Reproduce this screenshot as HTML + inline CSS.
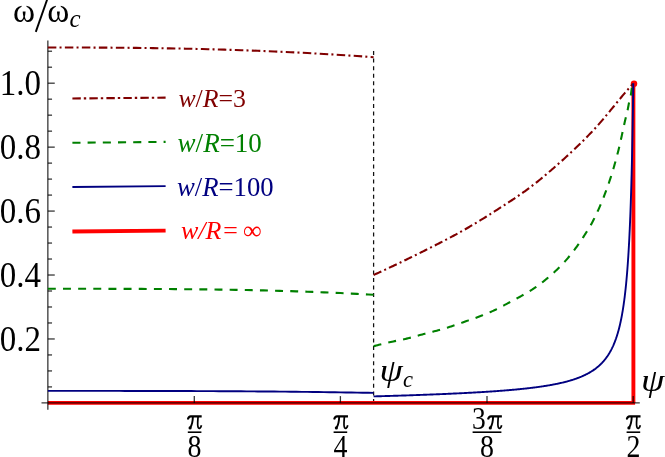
<!DOCTYPE html>
<html><head><meta charset="utf-8"><title>plot</title>
<style>
html,body{margin:0;padding:0;background:#fff;}
svg{display:block;font-family:"Liberation Serif",serif;will-change:transform;}
</style></head><body>
<svg width="665" height="457" viewBox="0 0 665 457">
<rect width="665" height="457" fill="#fff"/>
<!-- red infinite curve -->
<g fill="none" stroke="#ff0000" stroke-width="3.9">
<path d="M47.85,402.9 L635.0999999999999,402.9"/>
<path d="M633.4,402.9 L633.4,83.7"/>
</g>
<circle cx="634.0" cy="83.7" r="3.25" fill="#ff0000"/>
<!-- axes -->
<g stroke="#000" stroke-opacity="0.78" stroke-width="1.3" fill="none">
<line x1="41.5" y1="402.9" x2="639.8" y2="402.9"/>
<line x1="47.85" y1="40.6" x2="47.85" y2="409.8"/>
<line x1="47.85" y1="386.91" x2="52.05" y2="386.91"/>
<line x1="47.85" y1="370.93" x2="52.05" y2="370.93"/>
<line x1="47.85" y1="354.94" x2="52.05" y2="354.94"/>
<line x1="47.85" y1="338.96" x2="54.75" y2="338.96"/>
<line x1="47.85" y1="322.97" x2="52.05" y2="322.97"/>
<line x1="47.85" y1="306.99" x2="52.05" y2="306.99"/>
<line x1="47.85" y1="291.00" x2="52.05" y2="291.00"/>
<line x1="47.85" y1="275.02" x2="54.75" y2="275.02"/>
<line x1="47.85" y1="259.03" x2="52.05" y2="259.03"/>
<line x1="47.85" y1="243.05" x2="52.05" y2="243.05"/>
<line x1="47.85" y1="227.06" x2="52.05" y2="227.06"/>
<line x1="47.85" y1="211.08" x2="54.75" y2="211.08"/>
<line x1="47.85" y1="195.09" x2="52.05" y2="195.09"/>
<line x1="47.85" y1="179.11" x2="52.05" y2="179.11"/>
<line x1="47.85" y1="163.12" x2="52.05" y2="163.12"/>
<line x1="47.85" y1="147.14" x2="54.75" y2="147.14"/>
<line x1="47.85" y1="131.15" x2="52.05" y2="131.15"/>
<line x1="47.85" y1="115.17" x2="52.05" y2="115.17"/>
<line x1="47.85" y1="99.18" x2="52.05" y2="99.18"/>
<line x1="47.85" y1="83.20" x2="54.75" y2="83.20"/>
<line x1="47.85" y1="67.21" x2="52.05" y2="67.21"/>
<line x1="47.85" y1="51.23" x2="52.05" y2="51.23"/>
<line x1="194.3" y1="402.9" x2="194.3" y2="396.09999999999997"/>
<line x1="340.4" y1="402.9" x2="340.4" y2="396.09999999999997"/>
<line x1="487.0" y1="402.9" x2="487.0" y2="396.09999999999997"/>
<line x1="633.2" y1="402.9" x2="633.2" y2="396.09999999999997"/>
</g>
<!-- vertical dashed -->
<line x1="373.6" y1="51" x2="373.6" y2="401" stroke="#111" stroke-width="1.25" stroke-dasharray="4.0 3.565"/>
<!-- curves -->
<g fill="none" stroke-width="2.1">
<g stroke="#800000" stroke-dasharray="8.5 3.2 2 3.3">
<path d="M47.85,47.50 L53.37,47.50 L58.89,47.50 L64.41,47.51 L69.93,47.51 L75.46,47.52 L80.98,47.54 L86.50,47.55 L92.02,47.57 L97.54,47.60 L103.06,47.63 L108.58,47.66 L114.10,47.70 L119.63,47.74 L125.15,47.79 L130.67,47.84 L136.19,47.90 L141.71,47.96 L147.23,48.03 L152.75,48.10 L158.27,48.19 L163.79,48.27 L169.32,48.37 L174.84,48.46 L180.36,48.57 L185.88,48.68 L191.40,48.80 L196.92,48.93 L202.44,49.06 L207.96,49.20 L213.49,49.35 L219.01,49.50 L224.53,49.67 L230.05,49.84 L235.57,50.01 L241.09,50.20 L246.61,50.39 L252.13,50.59 L257.66,50.80 L263.18,51.02 L268.70,51.24 L274.22,51.48 L279.74,51.72 L285.26,51.97 L290.78,52.23 L296.30,52.50 L301.82,52.77 L307.35,53.06 L312.87,53.35 L318.39,53.65 L323.91,53.97 L329.43,54.29 L334.95,54.62 L340.47,54.96 L345.99,55.31 L351.52,55.67 L357.04,56.04 L362.56,56.41 L368.08,56.80 L373.60,57.20"/>
<path d="M373.60,275.00 L374.90,274.41 L376.21,273.82 L377.51,273.22 L378.81,272.62 L380.12,272.02 L381.42,271.42 L382.72,270.82 L384.03,270.22 L385.33,269.61 L386.64,269.00 L387.94,268.39 L389.24,267.78 L390.55,267.17 L391.85,266.55 L393.15,265.94 L394.46,265.32 L395.76,264.70 L397.06,264.08 L398.37,263.45 L399.67,262.83 L400.97,262.20 L402.28,261.57 L403.58,260.95 L404.88,260.31 L406.19,259.68 L407.49,259.05 L408.79,258.41 L410.10,257.78 L411.40,257.14 L412.71,256.50 L414.01,255.86 L415.31,255.22 L416.62,254.57 L417.92,253.93 L419.22,253.28 L420.53,252.64 L421.83,251.99 L423.13,251.34 L424.44,250.69 L425.74,250.04 L427.04,249.38 L428.35,248.73 L429.65,248.08 L430.95,247.42 L432.26,246.76 L433.56,246.11 L434.87,245.45 L436.17,244.78 L437.47,244.12 L438.78,243.46 L440.08,242.79 L441.38,242.12 L442.69,241.45 L443.99,240.78 L445.29,240.10 L446.60,239.42 L447.90,238.74 L449.20,238.05 L450.51,237.36 L451.81,236.67 L453.11,235.97 L454.42,235.27 L455.72,234.57 L457.03,233.86 L458.33,233.14 L459.63,232.43 L460.94,231.70 L462.24,230.97 L463.54,230.23 L464.85,229.49 L466.15,228.74 L467.45,227.98 L468.76,227.22 L470.06,226.46 L471.36,225.69 L472.67,224.91 L473.97,224.14 L475.27,223.35 L476.58,222.57 L477.88,221.78 L479.18,220.99 L480.49,220.20 L481.79,219.41 L483.10,218.61 L484.40,217.80 L485.70,216.99 L487.01,216.18 L488.31,215.36 L489.61,214.54 L490.92,213.72 L492.22,212.88 L493.52,212.05 L494.83,211.21 L496.13,210.37 L497.43,209.53 L498.74,208.69 L500.04,207.86 L501.34,207.02 L502.65,206.18 L503.95,205.34 L505.26,204.50 L506.56,203.66 L507.86,202.81 L509.17,201.96 L510.47,201.11 L511.77,200.25 L513.08,199.39 L514.38,198.52 L515.68,197.64 L516.99,196.76 L518.29,195.87 L519.59,194.97 L520.90,194.06 L522.20,193.15 L523.50,192.22 L524.81,191.29 L526.11,190.34 L527.42,189.38 L528.72,188.42 L530.02,187.44 L531.33,186.44 L532.63,185.44 L533.93,184.43 L535.24,183.41 L536.54,182.37 L537.84,181.33 L539.15,180.28 L540.45,179.22 L541.75,178.15 L543.06,177.07 L544.36,175.98 L545.66,174.89 L546.97,173.79 L548.27,172.68 L549.57,171.57 L550.88,170.44 L552.18,169.32 L553.49,168.18 L554.79,167.04 L556.09,165.90 L557.40,164.75 L558.70,163.59 L560.00,162.43 L561.31,161.27 L562.61,160.10 L563.91,158.92 L565.22,157.74 L566.52,156.56 L567.82,155.36 L569.13,154.16 L570.43,152.96 L571.73,151.74 L573.04,150.52 L574.34,149.29 L575.65,148.05 L576.95,146.80 L578.25,145.55 L579.56,144.28 L580.86,143.01 L582.16,141.72 L583.47,140.43 L584.77,139.12 L586.07,137.81 L587.38,136.48 L588.68,135.14 L589.98,133.80 L591.29,132.44 L592.59,131.06 L593.89,129.68 L595.20,128.27 L596.50,126.84 L597.81,125.38 L599.11,123.91 L600.41,122.41 L601.72,120.90 L603.02,119.37 L604.32,117.83 L605.63,116.27 L606.93,114.70 L608.23,113.13 L609.54,111.55 L610.84,109.96 L612.14,108.36 L613.45,106.77 L614.75,105.17 L616.05,103.58 L617.36,101.99 L618.66,100.41 L619.96,98.83 L621.27,97.25 L622.57,95.69 L623.88,94.14 L625.18,92.61 L626.48,91.09 L627.79,89.58 L629.09,88.08 L630.39,86.58 L631.70,85.09 L633.00,83.60"/>
</g>
<g stroke="#008000">
<path d="M47.85,288.80 L53.37,288.80 L58.89,288.80 L64.41,288.80 L69.93,288.80 L75.46,288.80 L80.98,288.80 L86.50,288.81 L92.02,288.81 L97.54,288.82 L103.06,288.82 L108.58,288.83 L114.10,288.84 L119.63,288.85 L125.15,288.86 L130.67,288.88 L136.19,288.90 L141.71,288.92 L147.23,288.94 L152.75,288.97 L158.27,288.99 L163.79,289.03 L169.32,289.06 L174.84,289.10 L180.36,289.15 L185.88,289.19 L191.40,289.25 L196.92,289.30 L202.44,289.36 L207.96,289.43 L213.49,289.50 L219.01,289.58 L224.53,289.66 L230.05,289.75 L235.57,289.85 L241.09,289.95 L246.61,290.05 L252.13,290.17 L257.66,290.29 L263.18,290.42 L268.70,290.55 L274.22,290.69 L279.74,290.84 L285.26,291.00 L290.78,291.17 L296.30,291.34 L301.82,291.53 L307.35,291.72 L312.87,291.92 L318.39,292.13 L323.91,292.35 L329.43,292.58 L334.95,292.82 L340.47,293.07 L345.99,293.33 L351.52,293.60 L357.04,293.89 L362.56,294.18 L368.08,294.48 L373.60,294.80" stroke-dasharray="7.95 7.2"/>
<path d="M373.60,346.20 L374.91,345.86 L376.23,345.52 L377.54,345.18 L378.86,344.85 L380.18,344.52 L381.49,344.20 L382.81,343.88 L384.13,343.56 L385.45,343.24 L386.77,342.93 L388.09,342.62 L389.41,342.31 L390.73,342.01 L392.06,341.71 L393.38,341.42 L394.71,341.13 L396.04,340.86 L397.37,340.59 L398.70,340.32 L400.03,340.05 L401.36,339.79 L402.69,339.51 L404.02,339.23 L405.34,338.94 L406.66,338.63 L407.98,338.31 L409.29,337.98 L410.60,337.64 L411.91,337.28 L413.22,336.92 L414.53,336.56 L415.84,336.19 L417.14,335.82 L418.45,335.46 L419.76,335.10 L421.07,334.74 L422.38,334.40 L423.69,334.05 L425.01,333.72 L426.32,333.38 L427.64,333.05 L428.95,332.72 L430.27,332.39 L431.58,332.05 L432.90,331.71 L434.21,331.36 L435.52,331.01 L436.83,330.65 L438.13,330.29 L439.44,329.93 L440.75,329.56 L442.05,329.18 L443.36,328.80 L444.66,328.42 L445.96,328.03 L447.26,327.64 L448.55,327.24 L449.85,326.84 L451.14,326.43 L452.43,326.01 L453.71,325.57 L455.00,325.13 L456.28,324.69 L457.56,324.24 L458.84,323.78 L460.12,323.33 L461.39,322.87 L462.67,322.41 L463.95,321.96 L465.23,321.51 L466.52,321.07 L467.80,320.63 L469.08,320.19 L470.37,319.75 L471.65,319.31 L472.94,318.87 L474.22,318.42 L475.50,317.97 L476.77,317.51 L478.05,317.05 L479.32,316.57 L480.58,316.09 L481.85,315.59 L483.11,315.10 L484.37,314.59 L485.63,314.08 L486.88,313.56 L488.14,313.03 L489.38,312.50 L490.63,311.96 L491.87,311.41 L493.10,310.85 L494.33,310.27 L495.55,309.69 L496.76,309.09 L497.97,308.48 L499.18,307.86 L500.39,307.23 L501.59,306.60 L502.79,305.96 L503.99,305.33 L505.19,304.69 L506.39,304.06 L507.59,303.43 L508.79,302.79 L509.99,302.15 L511.18,301.52 L512.38,300.87 L513.57,300.23 L514.77,299.58 L515.96,298.93 L517.15,298.28 L518.33,297.62 L519.52,296.96 L520.70,296.30 L521.89,295.64 L523.08,294.98 L524.26,294.31 L525.45,293.65 L526.63,292.98 L527.81,292.30 L528.98,291.61 L530.14,290.91 L531.29,290.20 L532.43,289.48 L533.56,288.73 L534.68,287.97 L535.79,287.20 L536.90,286.41 L538.00,285.61 L539.09,284.80 L540.18,283.98 L541.26,283.16 L542.33,282.32 L543.40,281.48 L544.46,280.64 L545.51,279.79 L546.56,278.93 L547.60,278.06 L548.64,277.19 L549.68,276.31 L550.70,275.41 L551.72,274.52 L552.73,273.61 L553.74,272.69 L554.73,271.77 L555.72,270.85 L556.70,269.91 L557.67,268.97 L558.64,268.02 L559.60,267.06 L560.55,266.09 L561.50,265.11 L562.44,264.13 L563.37,263.13 L564.29,262.14 L565.20,261.13 L566.10,260.12 L566.99,259.10 L567.87,258.07 L568.74,257.03 L569.60,255.98 L570.46,254.93 L571.30,253.87 L572.14,252.79 L572.97,251.72 L573.79,250.64 L574.61,249.55 L575.42,248.46 L576.22,247.37 L577.02,246.27 L577.81,245.17 L578.59,244.07 L579.37,242.95 L580.14,241.83 L580.90,240.71 L581.66,239.58 L582.41,238.45 L583.16,237.32 L583.89,236.18 L584.62,235.04 L585.35,233.89 L586.07,232.74 L586.80,231.59 L587.52,230.44 L588.24,229.28 L588.95,228.12 L589.65,226.95 L590.34,225.78 L591.02,224.61 L591.68,223.43 L592.33,222.24 L592.97,221.04 L593.58,219.84 L594.18,218.64 L594.78,217.42 L595.37,216.21 L595.95,214.99 L596.53,213.76 L597.10,212.53 L597.67,211.30 L598.23,210.06 L598.78,208.82 L599.33,207.58 L599.88,206.33 L600.41,205.08 L600.95,203.83 L601.47,202.57 L601.99,201.31 L602.51,200.05 L603.01,198.79 L603.52,197.52 L604.02,196.25 L604.51,194.98 L604.99,193.71 L605.47,192.44 L605.95,191.17 L606.42,189.90 L606.88,188.62 L607.34,187.35 L607.79,186.07 L608.24,184.79 L608.68,183.52 L609.11,182.24 L609.55,180.95 L609.97,179.67 L610.39,178.38 L610.81,177.09 L611.22,175.80 L611.63,174.50 L612.03,173.21 L612.43,171.91 L612.83,170.61 L613.22,169.30 L613.60,168.00 L613.99,166.70 L614.36,165.39 L614.74,164.08 L615.11,162.77 L615.47,161.47 L615.83,160.16 L616.19,158.85 L616.55,157.53 L616.90,156.22 L617.24,154.91 L617.59,153.60 L617.93,152.29 L618.26,150.98 L618.59,149.66 L618.91,148.34 L619.23,147.03 L619.54,145.71 L619.84,144.39 L620.15,143.06 L620.44,141.74 L620.74,140.42 L621.03,139.09 L621.32,137.76 L621.60,136.44 L621.89,135.11 L622.18,133.78 L622.46,132.46 L622.75,131.13 L623.03,129.80 L623.32,128.47 L623.61,127.15 L623.90,125.82 L624.19,124.50 L624.49,123.17 L624.79,121.85 L625.09,120.53 L625.40,119.20 L625.72,117.89 L626.05,116.57 L626.39,115.25 L626.73,113.94 L627.05,112.62 L627.36,111.30 L627.64,109.97 L627.90,108.64 L628.15,107.31 L628.40,105.97 L628.65,104.64 L628.91,103.31 L629.20,101.99 L629.52,100.67 L629.86,99.35 L630.19,98.03 L630.49,96.71 L630.77,95.38 L630.99,94.05 L631.18,92.70 L631.35,91.35 L631.52,90.00 L631.71,88.66 L631.94,87.33 L632.23,86.01 L632.59,84.70 L633.00,83.40" stroke-dasharray="7.95 7.18"/>
</g>
<g stroke="#000080" stroke-width="1.9">
<path d="M47.85,390.90 L53.37,390.90 L58.89,390.90 L64.41,390.90 L69.93,390.90 L75.46,390.90 L80.98,390.90 L86.50,390.90 L92.02,390.90 L97.54,390.91 L103.06,390.91 L108.58,390.91 L114.10,390.92 L119.63,390.92 L125.15,390.93 L130.67,390.93 L136.19,390.94 L141.71,390.95 L147.23,390.96 L152.75,390.97 L158.27,390.98 L163.79,390.99 L169.32,391.00 L174.84,391.02 L180.36,391.03 L185.88,391.05 L191.40,391.07 L196.92,391.09 L202.44,391.11 L207.96,391.14 L213.49,391.16 L219.01,391.19 L224.53,391.22 L230.05,391.25 L235.57,391.28 L241.09,391.32 L246.61,391.35 L252.13,391.39 L257.66,391.43 L263.18,391.48 L268.70,391.52 L274.22,391.57 L279.74,391.62 L285.26,391.67 L290.78,391.73 L296.30,391.79 L301.82,391.85 L307.35,391.91 L312.87,391.98 L318.39,392.05 L323.91,392.12 L329.43,392.19 L334.95,392.27 L340.47,392.35 L345.99,392.43 L351.52,392.52 L357.04,392.61 L362.56,392.70 L368.08,392.80 L373.60,392.90"/>
<path d="M373.60,396.41 L374.68,396.38 L375.76,396.35 L376.84,396.32 L377.91,396.29 L378.99,396.26 L380.05,396.23 L381.12,396.20 L382.18,396.17 L383.25,396.14 L384.30,396.10 L385.36,396.07 L386.41,396.04 L387.46,396.01 L388.51,395.98 L389.55,395.95 L390.60,395.92 L391.64,395.88 L392.67,395.85 L393.71,395.82 L394.74,395.79 L395.77,395.76 L396.79,395.72 L397.82,395.69 L398.84,395.66 L399.85,395.63 L400.87,395.59 L401.88,395.56 L402.89,395.53 L403.90,395.49 L404.91,395.46 L405.91,395.43 L406.91,395.40 L407.90,395.36 L408.90,395.33 L409.89,395.29 L410.88,395.26 L411.87,395.23 L412.85,395.19 L413.83,395.16 L414.81,395.13 L415.78,395.09 L416.76,395.06 L417.73,395.02 L418.70,394.99 L419.66,394.95 L420.62,394.92 L421.58,394.88 L422.54,394.85 L423.50,394.81 L424.45,394.78 L425.40,394.74 L426.35,394.71 L427.29,394.67 L428.23,394.63 L429.17,394.60 L430.11,394.56 L431.04,394.53 L431.97,394.49 L432.90,394.45 L433.83,394.42 L434.75,394.38 L435.68,394.34 L436.59,394.31 L437.51,394.27 L438.42,394.23 L439.34,394.19 L440.24,394.16 L441.15,394.12 L442.05,394.08 L442.95,394.04 L443.85,394.00 L444.75,393.97 L445.64,393.93 L446.53,393.89 L447.42,393.85 L448.31,393.81 L449.19,393.77 L450.07,393.73 L450.95,393.69 L451.82,393.65 L452.70,393.61 L453.57,393.57 L454.43,393.53 L455.30,393.49 L456.16,393.45 L457.02,393.41 L457.88,393.37 L458.74,393.33 L459.59,393.29 L460.44,393.24 L461.29,393.20 L462.13,393.16 L462.97,393.12 L463.81,393.08 L464.65,393.03 L465.49,392.99 L466.32,392.95 L467.15,392.90 L467.98,392.86 L468.80,392.82 L469.63,392.77 L470.45,392.73 L471.26,392.68 L472.08,392.64 L472.89,392.60 L473.70,392.55 L474.51,392.51 L475.32,392.46 L476.12,392.41 L476.92,392.37 L477.72,392.32 L478.52,392.28 L479.31,392.23 L480.10,392.18 L480.89,392.13 L481.67,392.09 L482.46,392.04 L483.24,391.99 L484.02,391.94 L484.79,391.89 L485.57,391.85 L486.34,391.80 L487.11,391.75 L487.88,391.70 L488.64,391.65 L489.40,391.60 L490.16,391.55 L490.92,391.50 L491.67,391.45 L492.42,391.39 L493.17,391.34 L493.92,391.29 L494.67,391.24 L495.41,391.19 L496.15,391.13 L496.89,391.08 L497.62,391.03 L498.35,390.97 L499.09,390.92 L499.81,390.86 L500.54,390.81 L501.26,390.75 L501.98,390.70 L502.70,390.64 L503.42,390.59 L504.13,390.53 L504.85,390.47 L505.55,390.42 L506.26,390.36 L506.97,390.30 L507.67,390.24 L508.37,390.18 L509.07,390.12 L509.76,390.07 L510.45,390.01 L511.14,389.94 L511.83,389.88 L512.52,389.82 L513.20,389.76 L513.88,389.70 L514.56,389.64 L515.24,389.57 L515.91,389.51 L516.58,389.45 L517.25,389.38 L517.92,389.32 L518.59,389.25 L519.25,389.19 L519.91,389.12 L520.57,389.06 L521.22,388.99 L521.88,388.92 L522.53,388.86 L523.18,388.79 L523.82,388.72 L524.47,388.65 L525.11,388.58 L525.75,388.51 L526.39,388.44 L527.02,388.37 L527.66,388.30 L528.29,388.22 L528.91,388.15 L529.54,388.08 L530.17,388.00 L530.79,387.93 L531.41,387.86 L532.02,387.78 L532.64,387.70 L533.25,387.63 L533.86,387.55 L534.47,387.47 L535.08,387.39 L535.68,387.32 L536.28,387.24 L536.88,387.16 L537.48,387.08 L538.07,386.99 L538.66,386.91 L539.25,386.83 L539.84,386.75 L540.43,386.66 L541.01,386.58 L541.59,386.49 L542.17,386.41 L542.75,386.32 L543.33,386.23 L543.90,386.15 L544.47,386.06 L545.04,385.97 L545.60,385.88 L546.17,385.79 L546.73,385.70 L547.29,385.60 L547.85,385.51 L548.40,385.42 L548.95,385.32 L549.51,385.23 L550.05,385.13 L550.60,385.03 L551.14,384.94 L551.69,384.84 L552.23,384.74 L552.77,384.64 L553.30,384.54 L553.83,384.44 L554.37,384.33 L554.90,384.23 L555.42,384.12 L555.95,384.02 L556.47,383.91 L556.99,383.81 L557.51,383.70 L558.03,383.59 L558.54,383.48 L559.05,383.37 L559.56,383.26 L560.07,383.14 L560.58,383.03 L561.08,382.92 L561.58,382.80 L562.08,382.68 L562.58,382.56 L563.08,382.45 L563.57,382.33 L564.06,382.21 L564.55,382.08 L565.04,381.96 L565.52,381.84 L566.01,381.71 L566.49,381.58 L566.97,381.46 L567.44,381.33 L567.92,381.20 L568.39,381.07 L568.86,380.93 L569.33,380.80 L569.80,380.67 L570.26,380.53 L570.72,380.39 L571.18,380.25 L571.64,380.11 L572.10,379.97 L572.55,379.83 L573.01,379.69 L573.46,379.54 L573.90,379.39 L574.35,379.25 L574.80,379.10 L575.24,378.95 L575.68,378.79 L576.12,378.64 L576.55,378.49 L576.99,378.33 L577.42,378.17 L577.85,378.01 L578.28,377.85 L578.70,377.69 L579.13,377.52 L579.55,377.36 L579.97,377.19 L580.39,377.02 L580.80,376.85 L581.22,376.68 L581.63,376.50 L582.04,376.33 L582.45,376.15 L582.86,375.97 L583.26,375.79 L583.66,375.61 L584.06,375.42 L584.46,375.24 L584.86,375.05 L585.25,374.86 L585.65,374.66 L586.04,374.47 L586.43,374.27 L586.81,374.07 L587.20,373.87 L587.58,373.67 L587.96,373.47 L588.34,373.26 L588.72,373.05 L589.10,372.84 L589.47,372.63 L589.84,372.41 L590.21,372.19 L590.58,371.97 L590.95,371.75 L591.31,371.53 L591.67,371.30 L592.03,371.07 L592.39,370.84 L592.75,370.61 L593.10,370.37 L593.46,370.13 L593.81,369.89 L594.16,369.64 L594.50,369.40 L594.85,369.15 L595.19,368.90 L595.53,368.64 L595.87,368.38 L596.21,368.12 L596.55,367.86 L596.88,367.59 L597.21,367.32 L597.55,367.05 L597.87,366.78 L598.20,366.50 L598.53,366.22 L598.85,365.93 L599.17,365.64 L599.49,365.35 L599.81,365.06 L600.13,364.76 L600.44,364.46 L600.75,364.16 L601.06,363.85 L601.37,363.54 L601.68,363.22 L601.99,362.91 L602.29,362.59 L602.59,362.26 L602.89,361.93 L603.19,361.60 L603.49,361.26 L603.78,360.92 L604.07,360.58 L604.37,360.23 L604.66,359.88 L604.94,359.52 L605.23,359.16 L605.51,358.79 L605.80,358.43 L606.08,358.05 L606.36,357.67 L606.63,357.29 L606.91,356.91 L607.18,356.51 L607.46,356.12 L607.73,355.72 L608.00,355.31 L608.26,354.90 L608.53,354.49 L608.79,354.07 L609.05,353.64 L609.32,353.21 L609.57,352.78 L609.83,352.34 L610.09,351.89 L610.34,351.44 L610.59,350.98 L610.84,350.52 L611.09,350.05 L611.34,349.58 L611.58,349.10 L611.83,348.62 L612.07,348.12 L612.31,347.63 L612.55,347.12 L612.79,346.62 L613.02,346.10 L613.26,345.58 L613.49,345.05 L613.72,344.52 L613.95,343.97 L614.17,343.43 L614.40,342.87 L614.62,342.31 L614.85,341.74 L615.07,341.16 L615.29,340.58 L615.51,339.99 L615.72,339.39 L615.94,338.79 L616.15,338.17 L616.36,337.55 L616.57,336.93 L616.78,336.29 L616.99,335.64 L617.19,334.99 L617.39,334.33 L617.60,333.66 L617.80,332.98 L618.00,332.30 L618.19,331.60 L618.39,330.90 L618.58,330.19 L618.78,329.47 L618.97,328.74 L619.16,328.00 L619.35,327.25 L619.53,326.49 L619.72,325.72 L619.90,324.94 L620.08,324.15 L620.27,323.35 L620.44,322.55 L620.62,321.73 L620.80,320.90 L620.97,320.06 L621.15,319.21 L621.32,318.35 L621.49,317.47 L621.66,316.59 L621.83,315.70 L621.99,314.79 L622.16,313.87 L622.32,312.95 L622.48,312.00 L622.64,311.05 L622.80,310.09 L622.96,309.11 L623.11,308.12 L623.27,307.12 L623.42,306.11 L623.57,305.08 L623.72,304.04 L623.87,302.99 L624.02,301.92 L624.17,300.84 L624.31,299.75 L624.45,298.65 L624.60,297.53 L624.74,296.39 L624.88,295.25 L625.01,294.09 L625.15,292.91 L625.29,291.72 L625.42,290.52 L625.55,289.30 L625.68,288.07 L625.81,286.82 L625.94,285.56 L626.07,284.28 L626.19,282.99 L626.32,281.68 L626.44,280.36 L626.56,279.02 L626.68,277.67 L626.80,276.30 L626.92,274.91 L627.04,273.51 L627.15,272.10 L627.27,270.67 L627.38,269.22 L627.49,267.76 L627.60,266.28 L627.71,264.78 L627.82,263.27 L627.92,261.75 L628.03,260.21 L628.13,258.65 L628.24,257.07 L628.34,255.48 L628.44,253.88 L628.54,252.26 L628.63,250.62 L628.73,248.97 L628.83,247.30 L628.92,245.61 L629.01,243.91 L629.11,242.20 L629.20,240.47 L629.29,238.72 L629.37,236.97 L629.46,235.19 L629.55,233.40 L629.63,231.60 L629.72,229.78 L629.80,227.95 L629.88,226.11 L629.96,224.25 L630.04,222.38 L630.12,220.50 L630.19,218.61 L630.27,216.70 L630.34,214.78 L630.42,212.85 L630.49,210.91 L630.56,208.96 L630.63,207.00 L630.70,205.03 L630.77,203.06 L630.83,201.07 L630.90,199.08 L630.96,197.07 L631.03,195.07 L631.09,193.05 L631.15,191.04 L631.21,189.01 L631.27,186.99 L631.33,184.96 L631.39,182.92 L631.44,180.89 L631.50,178.85 L631.55,176.82 L631.61,174.78 L631.66,172.75 L631.71,170.71 L631.76,168.69 L631.81,166.66 L631.86,164.64 L631.91,162.63 L631.95,160.62 L632.00,158.62 L632.04,156.63 L632.09,154.65 L632.13,152.68 L632.17,150.72 L632.21,148.77 L632.25,146.84 L632.29,144.92 L632.33,143.02 L632.37,141.13 L632.40,139.26 L632.44,137.41 L632.48,135.58 L632.51,133.76 L632.54,131.97 L632.57,130.21 L632.61,128.46 L632.64,126.74 L632.67,125.05 L632.70,123.38 L632.72,121.74 L632.75,120.13 L632.78,118.54 L632.80,116.99 L632.83,115.46 L632.85,113.97 L632.88,112.51 L632.90,111.08 L632.92,109.68 L632.94,108.32 L632.96,106.99 L632.98,105.70 L633.00,104.44 L633.02,103.22 L633.04,102.04 L633.05,100.89 L633.07,99.78 L633.09,98.71 L633.10,97.67 L633.11,96.68 L633.13,95.72 L633.14,94.80 L633.15,93.92 L633.17,93.07 L633.18,92.27 L633.19,91.50 L633.20,90.77 L633.21,90.08 L633.22,89.42 L633.22,88.81 L633.23,88.23 L633.24,87.68 L633.25,87.17 L633.25,86.70 L633.26,86.26 L633.26,85.86 L633.27,85.49 L633.27,85.15 L633.28,84.84 L633.28,84.57 L633.29,84.32 L633.29,84.10 L633.29,83.91 L633.29,83.75 L633.29,83.61 L633.30,83.49 L633.30,83.40 L633.30,83.33 L633.30,83.27 L633.30,83.24 L633.30,83.21 L633.30,83.20 L633.30,83.20"/>
</g>
</g>
<!-- legend -->
<g fill="none">
<line x1="72.4" y1="98.5" x2="165.6" y2="97.6" stroke="#800000" stroke-width="2.1" stroke-dasharray="8.4 3 2.4 3.2"/>
<line x1="72.4" y1="142.8" x2="165.6" y2="141.9" stroke="#008000" stroke-width="2.1" stroke-dasharray="8.1 7.1"/>
<line x1="72.4" y1="187.0" x2="165.6" y2="186.2" stroke="#000080" stroke-width="1.8"/>
<line x1="72.4" y1="231.5" x2="165.6" y2="230.7" stroke="#ff0000" stroke-width="3.8"/>
</g>
<g font-size="25.8">
<text x="178.4" y="106.8" fill="#800000"><tspan font-style="italic">w</tspan>/<tspan font-style="italic">R</tspan>=3</text>
<text x="177.6" y="151.5" fill="#008000" font-size="27"><tspan font-style="italic">w</tspan>/<tspan font-style="italic">R</tspan>=10</text>
<text x="177.0" y="196.2" fill="#000080" font-size="26.7"><tspan font-style="italic">w</tspan>/<tspan font-style="italic">R</tspan>=100</text>
<text x="181.0" y="239.3" fill="#ff0000" font-size="26" font-style="italic">w/R= <tspan font-style="normal" dx="-2.4">∞</tspan></text>
</g>
<!-- labels -->
<g fill="#000">
<text transform="translate(41.0,95.0) scale(0.917,1)" text-anchor="end" font-size="36">1.0</text>
<text transform="translate(41.0,158.9) scale(0.917,1)" text-anchor="end" font-size="36">0.8</text>
<text transform="translate(41.0,222.9) scale(0.917,1)" text-anchor="end" font-size="36">0.6</text>
<text transform="translate(41.0,286.8) scale(0.917,1)" text-anchor="end" font-size="36">0.4</text>
<text transform="translate(41.0,350.8) scale(0.917,1)" text-anchor="end" font-size="36">0.2</text>

<g fill="none" stroke="#000" stroke-linecap="round" stroke-linejoin="round" transform="translate(194.70,429.4) scale(0.04815)"><path d="M-140,-212 C-130,-252 -110,-270 -83,-270 L145,-270" stroke-width="44" stroke-linecap="butt"/><path d="M-142,-208 C-134,-246 -115,-266 -88,-268" stroke-width="18"/><path d="M-38,-262 C-40,-180 -56,-95 -90,-40" stroke-width="40" stroke-linecap="butt"/><circle cx="-96" cy="-30" r="33" fill="#000" stroke="none"/><path d="M70,-262 C64,-180 50,-72 76,-34 C96,-8 127,-28 140,-85" stroke-width="36" stroke-linecap="butt"/></g><line x1="187.8" y1="432.2" x2="201.4" y2="432.2" stroke="#000" stroke-width="1.6"/><text transform="translate(194.6,457.1) scale(0.9,1)" text-anchor="middle" font-size="31">8</text>
<g fill="none" stroke="#000" stroke-linecap="round" stroke-linejoin="round" transform="translate(341.00,429.4) scale(0.04815)"><path d="M-140,-212 C-130,-252 -110,-270 -83,-270 L145,-270" stroke-width="44" stroke-linecap="butt"/><path d="M-142,-208 C-134,-246 -115,-266 -88,-268" stroke-width="18"/><path d="M-38,-262 C-40,-180 -56,-95 -90,-40" stroke-width="40" stroke-linecap="butt"/><circle cx="-96" cy="-30" r="33" fill="#000" stroke="none"/><path d="M70,-262 C64,-180 50,-72 76,-34 C96,-8 127,-28 140,-85" stroke-width="36" stroke-linecap="butt"/></g><line x1="333.6" y1="432.2" x2="347.2" y2="432.2" stroke="#000" stroke-width="1.6"/><text transform="translate(340.4,457.1) scale(0.9,1)" text-anchor="middle" font-size="31">4</text>
<text transform="translate(478.9,428.6) scale(0.87,1)" text-anchor="middle" font-size="31.6">3</text><g fill="none" stroke="#000" stroke-linecap="round" stroke-linejoin="round" transform="translate(494.90,429.4) scale(0.04815)"><path d="M-140,-212 C-130,-252 -110,-270 -83,-270 L145,-270" stroke-width="44" stroke-linecap="butt"/><path d="M-142,-208 C-134,-246 -115,-266 -88,-268" stroke-width="18"/><path d="M-38,-262 C-40,-180 -56,-95 -90,-40" stroke-width="40" stroke-linecap="butt"/><circle cx="-96" cy="-30" r="33" fill="#000" stroke="none"/><path d="M70,-262 C64,-180 50,-72 76,-34 C96,-8 127,-28 140,-85" stroke-width="36" stroke-linecap="butt"/></g><line x1="472.6" y1="432.2" x2="501.4" y2="432.2" stroke="#000" stroke-width="1.6"/><text transform="translate(487.0,457.1) scale(0.9,1)" text-anchor="middle" font-size="31">8</text>
<g fill="none" stroke="#000" stroke-linecap="round" stroke-linejoin="round" transform="translate(633.55,429.4) scale(0.04815)"><path d="M-140,-212 C-130,-252 -110,-270 -83,-270 L145,-270" stroke-width="44" stroke-linecap="butt"/><path d="M-142,-208 C-134,-246 -115,-266 -88,-268" stroke-width="18"/><path d="M-38,-262 C-40,-180 -56,-95 -90,-40" stroke-width="40" stroke-linecap="butt"/><circle cx="-96" cy="-30" r="33" fill="#000" stroke="none"/><path d="M70,-262 C64,-180 50,-72 76,-34 C96,-8 127,-28 140,-85" stroke-width="36" stroke-linecap="butt"/></g><line x1="626.6" y1="432.2" x2="640.2" y2="432.2" stroke="#000" stroke-width="1.6"/><text transform="translate(633.4,457.1) scale(0.9,1)" text-anchor="middle" font-size="31">2</text>

<text x="12.9" y="22" font-size="33.5">ω</text>
<line x1="47.1" y1="-0.3" x2="35.8" y2="31.9" stroke="#000" stroke-width="1.9"/>
<text x="47.2" y="22" font-size="33.5">ω</text>
<text x="69.6" y="26.6" font-size="25" font-style="italic">c</text>
<text transform="translate(379.4,380.5) scale(1.2,1)" font-size="31.2" font-style="italic">ψ</text>
<text x="403.0" y="386.9" font-size="22.5" font-style="italic">c</text>
<text transform="translate(640.9,391.0) scale(1.2,1)" font-size="31.4" font-style="italic">ψ</text>
</g>
</svg>
</body></html>
